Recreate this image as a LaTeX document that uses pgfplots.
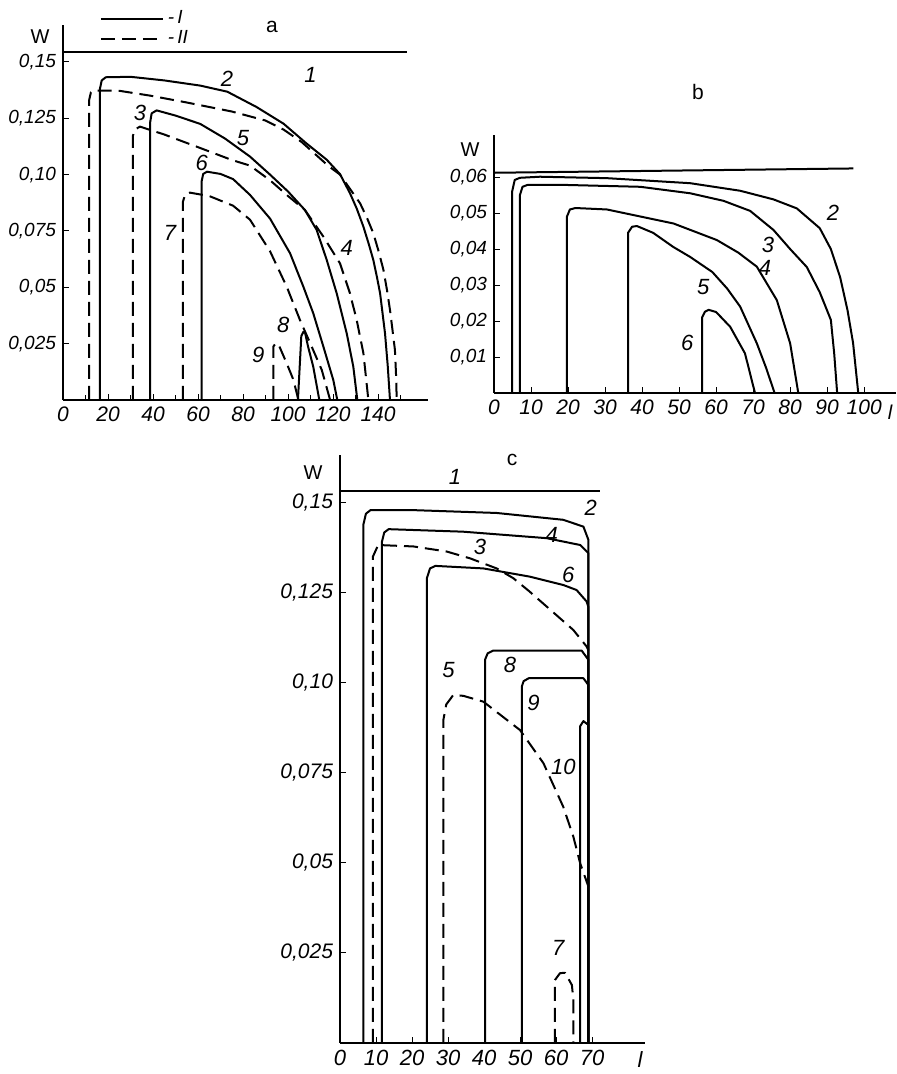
\documentclass[border=0pt]{standalone}
\usepackage{fontspec}
\setmainfont{Liberation Sans}
\usepackage{pgfplots}
\pgfplotsset{compat=1.18}
\tikzset{
  sol/.style={black, line width=1pt, line join=round},
  das/.style={black, line width=1pt, line join=round, dash pattern=on 7pt off 3.5pt},
  lab/.style={font=\fontsize{11}{12}\selectfont\itshape, inner sep=1pt},
}
\pgfplotsset{
  panel/.style={
    scale only axis, anchor=south west,
    axis x line*=bottom, axis y line*=left,
    axis line style={-, line width=0.7pt},
    every outer x axis line/.append style={-},
    every outer y axis line/.append style={-},
    tick align=inside, major tick length=3pt, minor tick length=2.5pt,
    tick style={black, line width=0.5pt},
    scaled x ticks=false, scaled y ticks=false,
    xticklabel style={font=\fontsize{10.5}{11}\selectfont\itshape},
    yticklabel style={font=\fontsize{9.5}{10}\selectfont\itshape},
    clip=false,
  },
}
\begin{document}
\begin{tikzpicture}
\path[use as bounding box] (0pt,0pt) rectangle (448pt,537pt);
% ---------------- panel a ----------------
\begin{axis}[panel, at={(31.5pt,337pt)}, width=182.5pt, height=187.5pt,
  xmin=0, xmax=162.2, ymin=0, ymax=0.1664,
  xtick={0,20,...,140}, xticklabels={0,20,40,60,80,100,120,140},
  minor xtick={10,30,...,150},
  ytick={0.025,0.05,0.075,0.1,0.125,0.15},
  yticklabels={{0,025},{0,05},{0,075},{0,10},{0,125},{0,15}},
  legend style={at={(0.10,1.05)}, anchor=north west, draw=none, fill=none,
    font=\fontsize{9.5}{10}\selectfont\itshape, inner sep=0pt, row sep=-2pt},
  legend cell align=left,
  legend image code/.code={\draw[#1] (0pt,0pt) -- (31pt,0pt);},
]
\addlegendimage{sol}\addlegendentry{-\,I}
\addlegendimage{das}\addlegendentry{-\,II}
\addplot[sol, forget plot] coordinates {(0,0.1545)(153,0.1545)};
\addplot[sol, forget plot] coordinates {(16.4,0)(16.4,0.138)(17.2,0.1418)(19,0.1432)(30,0.1434)(45,0.1418)(61,0.1395)(73,0.1368)(86,0.1300)(98,0.1226)(108,0.1140)(117.2,0.1066)(123.1,0.1002)(127.5,0.0918)(130.5,0.0850)(133.5,0.0769)(136,0.0688)(137.9,0.0621)(139.5,0.0546)(140.9,0.0474)(142,0.0385)(143.1,0.0295)(144.3,0.0152)(145.3,0)};
\addplot[das, forget plot] coordinates {(11.6,0)(11.6,0.133)(12.4,0.1365)(14,0.1373)(25,0.1372)(39,0.1350)(55,0.1320)(75,0.1280)(90,0.1240)(98,0.1200)(106,0.1145)(113.5,0.1078)(118,0.1038)(123.1,0.1000)(128,0.0930)(132,0.0873)(135,0.0810)(137.9,0.0740)(140.3,0.0658)(142.4,0.0577)(144,0.0486)(145.3,0.0400)(146.5,0.0304)(147.5,0.0222)(148,0.0111)(148.3,0)};
\addplot[sol, forget plot] coordinates {(38.7,0)(38.7,0.123)(39.4,0.1272)(41.6,0.1285)(50,0.1262)(61,0.1225)(72,0.1160)(83.1,0.1080)(92,0.1000)(100,0.0925)(107.5,0.0843)(112.7,0.0755)(117.2,0.0621)(121.6,0.0474)(126.1,0.0295)(129,0.0148)(130.8,0)};
\addplot[das, forget plot] coordinates {(31,0)(31,0.117)(31.9,0.1200)(34.2,0.1213)(45,0.1178)(61,0.1118)(75,0.1065)(83.1,0.1040)(92,0.0975)(100,0.0905)(107.5,0.0843)(115.7,0.0725)(123.1,0.0606)(127.5,0.0474)(130.5,0.0355)(133.5,0.0207)(135.7,0)};
\addplot[sol, forget plot] coordinates {(61.6,0)(61.6,0.097)(62.3,0.1003)(64,0.1013)(70,0.1003)(75.6,0.0980)(83.1,0.0910)(92,0.0805)(100.9,0.0651)(106.8,0.0503)(111.2,0.0385)(115.7,0.0237)(120.1,0.0089)(121.9,0)};
\addplot[das, forget plot] coordinates {(53.3,0)(53.3,0.088)(54.3,0.0912)(56.4,0.0920)(65,0.0905)(75.6,0.0862)(83.1,0.0800)(92,0.0660)(99.4,0.0503)(105.3,0.0355)(110.5,0.0237)(115,0.0133)(118.7,0)};
\addplot[sol, forget plot] coordinates {(104.4,0)(105.9,0.0284)(106.8,0.0302)(107.6,0.0297)(108.9,0.0237)(111.2,0.0148)(113.9,0)};
\addplot[das, forget plot] coordinates {(93.5,0)(93.5,0.0238)(94.6,0.0252)(95.7,0.0248)(99.4,0.0163)(102.4,0.0089)(104.6,0)};
\node[lab] at (axis cs:110,0.1443) {1};
\node[lab] at (axis cs:72.9,0.1425) {2};
\node[lab] at (axis cs:34.2,0.1274) {3};
\node[lab] at (axis cs:126.1,0.0673) {4};
\node[lab] at (axis cs:80,0.1163) {5};
\node[lab] at (axis cs:61.6,0.1050) {6};
\node[lab] at (axis cs:47.6,0.0740) {7};
\node[lab] at (axis cs:97.9,0.0333) {8};
\node[lab] at (axis cs:86.8,0.0200) {9};
\end{axis}
% ---------------- panel b ----------------
\begin{axis}[panel, at={(247pt,340.5pt)}, width=201pt, height=129pt,
  xmin=0, xmax=108.6, ymin=0, ymax=0.0717,
  xtick={0,10,...,100}, xticklabels={0,10,20,30,40,50,60,70,80,90,100},
  ytick={0.01,0.02,0.03,0.04,0.05,0.06},
  yticklabels={{0,01},{0,02},{0,03},{0,04},{0,05},{0,06}},
]
\addplot[sol] coordinates {(0,0.0612)(97.1,0.0624)};
\addplot[sol] coordinates {(4.9,0)(4.9,0.056)(5.6,0.0592)(7,0.0598)(12.4,0.0601)(30.5,0.0597)(53,0.0583)(66.5,0.0562)(75.5,0.0538)(81.8,0.0513)(88,0.0458)(91,0.0400)(93.5,0.0322)(95.5,0.0230)(97,0.0139)(98.4,0)};
\addplot[sol] coordinates {(7,0)(7,0.055)(7.7,0.0573)(9,0.0578)(20,0.0578)(39.5,0.0573)(53,0.0555)(62,0.0534)(69.2,0.0506)(75.5,0.0453)(80,0.0400)(84.5,0.0350)(88,0.0280)(91,0.0203)(91.9,0.0110)(92.7,0)};
\addplot[sol] coordinates {(19.7,0)(19.7,0.049)(20.5,0.0510)(22,0.0514)(30.5,0.0510)(48.5,0.0471)(60.2,0.0425)(66,0.0390)(71,0.0351)(76.4,0.0258)(80,0.0138)(82.2,0)};
\addplot[sol] coordinates {(36.2,0)(36.2,0.0445)(37.3,0.0462)(38.6,0.0464)(43,0.0445)(48.4,0.0406)(53,0.0378)(59,0.0336)(63,0.0290)(66.5,0.0240)(71,0.0138)(73.5,0.0070)(75.8,0)};
\addplot[sol] coordinates {(56.2,0)(56.2,0.021)(57,0.0226)(58,0.0231)(60,0.0225)(63.8,0.0184)(67.8,0.0110)(70.5,0)};
\node[lab] at (axis cs:91.6,0.0500) {2};
\node[lab] at (axis cs:74,0.0411) {3};
\node[lab] at (axis cs:73.2,0.0347) {4};
\node[lab] at (axis cs:56.5,0.0294) {5};
\node[lab] at (axis cs:52.2,0.0139) {6};
\end{axis}
% ---------------- panel c ----------------
\begin{axis}[panel, at={(170pt,15.5pt)}, width=152.5pt, height=294pt,
  xmin=0, xmax=84.7, ymin=0, ymax=0.1633,
  xticklabel style={font=\fontsize{11}{12}\selectfont\itshape},
  yticklabel style={font=\fontsize{10.5}{11}\selectfont\itshape},
  xtick={0,10,...,70}, xticklabels={0,10,20,30,40,50,60,70},
  ytick={0.025,0.05,0.075,0.1,0.125,0.15},
  yticklabels={{0,025},{0,05},{0,075},{0,10},{0,125},{0,15}},
]
\addplot[sol] coordinates {(0,0.1533)(72.2,0.1533)};
\addplot[sol] coordinates {(6.5,0)(6.5,0.144)(7.2,0.1470)(8.5,0.1480)(20,0.1480)(43.5,0.1472)(62,0.1453)(67.6,0.1434)(69,0.1397)(69,0)};
\addplot[sol] coordinates {(11.6,0)(11.6,0.139)(12.3,0.1418)(13.5,0.1427)(34.2,0.1420)(57.4,0.1402)(66.7,0.1383)(69,0.1360)(69,0)};
\addplot[das] coordinates {(9.1,0)(9.1,0.135)(10.6,0.1383)(20.4,0.1379)(29.6,0.1365)(36.1,0.1346)(43.5,0.1318)(48.1,0.1291)(52.5,0.1255)(57.4,0.1212)(64.8,0.1147)(68.5,0.1101)(69,0.1090)};
\addplot[sol] coordinates {(24.1,0)(24.1,0.129)(25,0.1318)(26.5,0.1325)(39.8,0.1318)(52.8,0.1295)(62,0.1272)(65.7,0.1258)(68.5,0.1226)(69,0.1210)(69,0)};
\addplot[sol] coordinates {(40.3,0)(40.3,0.1065)(41,0.1082)(42.6,0.1090)(67.1,0.1090)(69,0.1064)(69,0)};
\addplot[sol] coordinates {(50.5,0)(50.5,0.0990)(51,0.1005)(52.4,0.1013)(67.6,0.1013)(69,0.0994)(69,0)};
\addplot[sol] coordinates {(66.7,0)(66.7,0.0880)(67.6,0.0894)(69,0.0883)(69,0)};
\addplot[das] coordinates {(28.7,0)(28.7,0.0897)(29.5,0.0940)(31.5,0.0967)(34.3,0.0964)(39.8,0.0948)(50,0.0869)(56.5,0.0777)(62,0.0656)(64.8,0.0573)(66.7,0.0499)(69,0.0434)};
\addplot[das] coordinates {(59.7,0)(59.7,0.0175)(61.1,0.0194)(62.5,0.0195)(64.4,0.0161)(64.8,0.0120)(64.8,0)};
\node[lab] at (axis cs:31.9,0.1573) {1};
\node[lab] at (axis cs:69.6,0.1485) {2};
\node[lab] at (axis cs:38.9,0.1379) {3};
\node[lab] at (axis cs:58.8,0.1411) {4};
\node[lab] at (axis cs:30.1,0.1036) {5};
\node[lab] at (axis cs:63.4,0.1300) {6};
\node[lab] at (axis cs:60.6,0.0263) {7};
\node[lab] at (axis cs:47.2,0.1050) {8};
\node[lab] at (axis cs:53.7,0.0944) {9};
\node[lab] at (axis cs:62,0.0768) {10};
\end{axis}
% panel titles and axis names
\node[font=\fontsize{10.5}{12}\selectfont] at (136pt,523.5pt) {a};
\node[font=\fontsize{10.5}{12}\selectfont] at (349pt,491pt) {b};
\node[font=\fontsize{10.5}{12}\selectfont] at (256pt,307pt) {c};
\node[font=\fontsize{10}{11}\selectfont] at (20pt,518.5pt) {W};
\node[font=\fontsize{10}{11}\selectfont] at (235pt,462pt) {W};
\node[font=\fontsize{10}{11}\selectfont] at (156.5pt,300.5pt) {W};
\node[font=\fontsize{11}{12}\selectfont\itshape] at (320pt,7pt) {l};
\node[font=\fontsize{10}{11}\selectfont\itshape] at (445pt,331pt) {l};
\end{tikzpicture}
\end{document}
